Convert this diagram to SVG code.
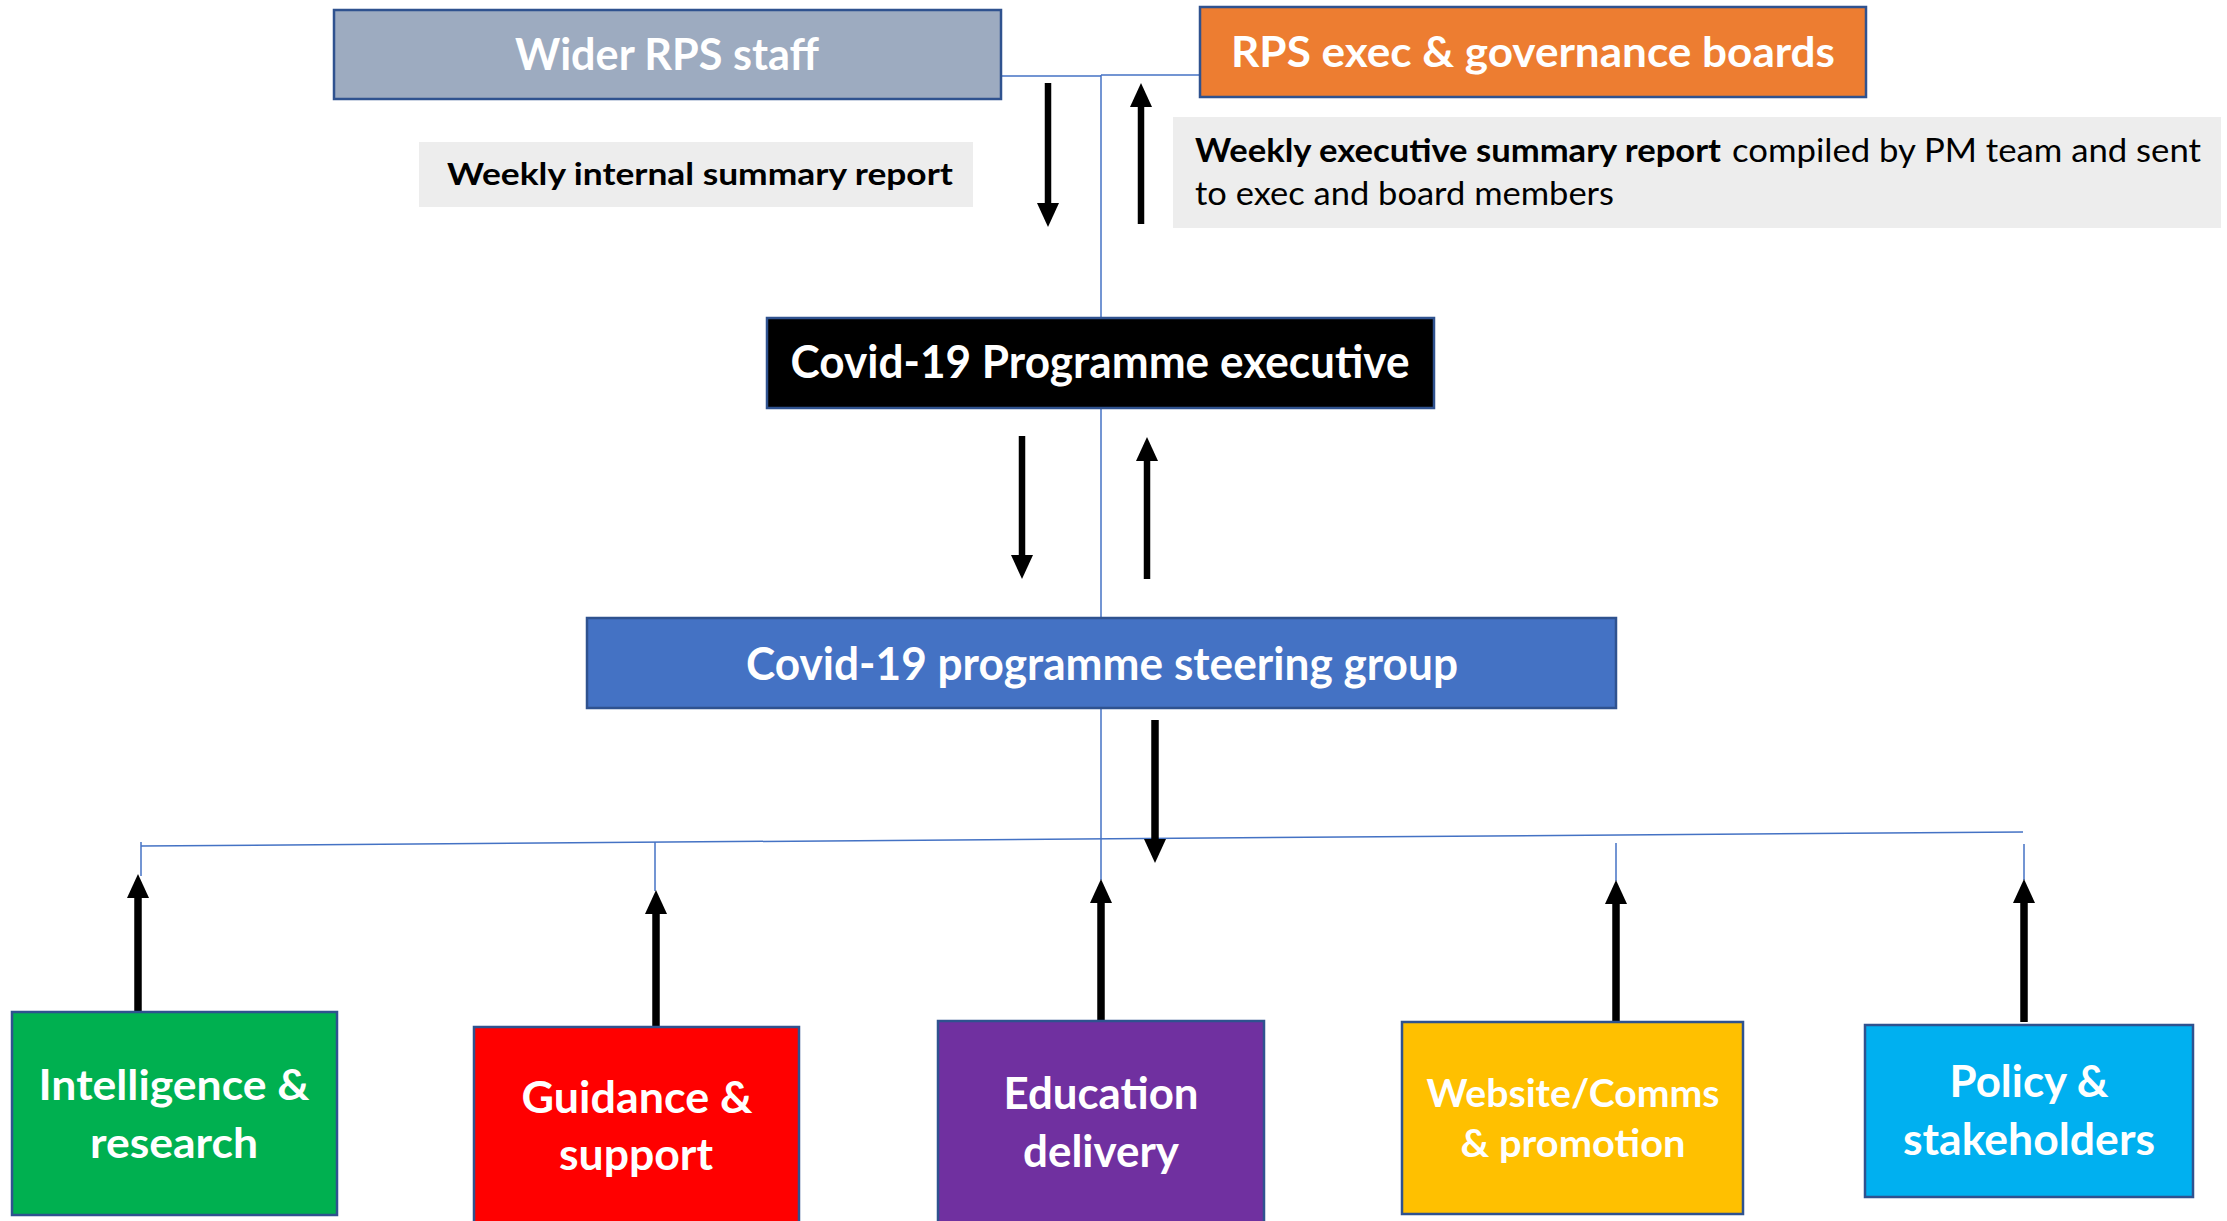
<svg xmlns="http://www.w3.org/2000/svg" width="2227" height="1221" viewBox="0 0 2227 1221">
  <style>
    .box { stroke: #2F528F; stroke-width: 2.5; }
    .lbl { font-family: Lato, "Open Sans", "Liberation Sans", sans-serif; font-weight: 700; fill: #ffffff; text-anchor: middle; }
    .note { fill: #EDEDED; }
    .notetxt { font-family: Lato, "Open Sans", "Liberation Sans", sans-serif; fill: #000000; }
    .link { stroke: #4472C4; stroke-width: 1.5; fill: none; }
    .flow { stroke: #000000; stroke-width: 6.5; fill: none; marker-end: url(#head); }
    .flow.thick { stroke-width: 7.5; }
  </style>
  <defs>
    <marker id="head" markerUnits="userSpaceOnUse" markerWidth="24" markerHeight="24" refX="0" refY="12" orient="auto" viewBox="0 0 24 24">
      <path d="M0,1 L24,12 L0,23 z" fill="#000000"/>
    </marker>
  </defs>

  <rect width="2227" height="1221" fill="#ffffff"/>

  <!-- connectors -->
  <g id="connectors">
    <path class="link" d="M1001,76 H1101"/>
    <path class="link" d="M1101,75 H1199"/>
    <path class="link" d="M1101,75 V318"/>
    <path class="link" d="M1101,408 V618"/>
    <path class="link" d="M1101,708 V880"/>
    <path class="link" d="M141,846 L2023,832"/>
    <path class="link" d="M141,842 V876"/>
    <path class="link" d="M655,842 V891"/>
    <path class="link" d="M1616,843 V881"/>
    <path class="link" d="M2024,844 V880"/>

    <path class="flow" d="M1048,83 V203"/>
    <path class="flow" d="M1141,224 V107"/>
    <path class="flow" d="M1022,436 V555"/>
    <path class="flow" d="M1147,579 V461"/>
    <path class="flow thick" d="M1155,720 V839"/>
    <path class="flow thick" d="M138,1017 V898"/>
    <path class="flow thick" d="M656,1032 V914"/>
    <path class="flow thick" d="M1101,1021 V903"/>
    <path class="flow thick" d="M1616,1022 V904"/>
    <path class="flow thick" d="M2024,1022 V903"/>
  </g>

  <!-- report notes -->
  <g id="note-internal">
    <rect class="note" x="419" y="142" width="554" height="65"/>
    <text class="notetxt" x="447" y="185" font-size="31" font-weight="700" textLength="506" lengthAdjust="spacingAndGlyphs">Weekly internal summary report</text>
  </g>
  <g id="note-executive">
    <rect class="note" x="1173" y="117" width="1048" height="111"/>
    <text class="notetxt" x="1195" y="162" font-size="33" font-weight="700" textLength="526" lengthAdjust="spacingAndGlyphs">Weekly executive summary report</text>
    <text class="notetxt" x="1732" y="162" font-size="33" textLength="469" lengthAdjust="spacingAndGlyphs">compiled by PM team and sent</text>
    <text class="notetxt" x="1195" y="205" font-size="33" textLength="419" lengthAdjust="spacingAndGlyphs">to exec and board members</text>
  </g>

  <!-- top row -->
  <g id="wider-staff">
    <rect class="box" x="334" y="10" width="667" height="89" fill="#9DABC0"/>
    <text class="lbl" x="667" y="70" font-size="44" textLength="304" lengthAdjust="spacingAndGlyphs">Wider RPS staff</text>
  </g>
  <g id="exec-boards">
    <rect class="box" x="1200" y="7" width="666" height="90" fill="#ED7D31"/>
    <text class="lbl" x="1533" y="67" font-size="42" textLength="604" lengthAdjust="spacingAndGlyphs">RPS exec &amp; governance boards</text>
  </g>

  <!-- programme executive -->
  <g id="programme-executive">
    <rect class="box" x="767" y="318" width="667" height="90" fill="#000000"/>
    <text class="lbl" x="1100" y="378" font-size="45" textLength="619" lengthAdjust="spacingAndGlyphs">Covid-19 Programme executive</text>
  </g>

  <!-- steering group -->
  <g id="steering-group">
    <rect class="box" x="587" y="618" width="1029" height="90" fill="#4472C4"/>
    <text class="lbl" x="1102" y="680" font-size="46" textLength="712" lengthAdjust="spacingAndGlyphs">Covid-19 programme steering group</text>
  </g>

  <!-- workstreams -->
  <g id="intelligence-research">
    <rect class="box" x="12" y="1012" width="325" height="203" fill="#00B050"/>
    <text class="lbl" x="174" y="1100" font-size="42" textLength="271" lengthAdjust="spacingAndGlyphs">Intelligence &amp;</text>
    <text class="lbl" x="174" y="1158" font-size="42" textLength="168" lengthAdjust="spacingAndGlyphs">research</text>
  </g>
  <g id="guidance-support">
    <rect class="box" x="474" y="1027" width="325" height="200" fill="#FF0000"/>
    <text class="lbl" x="637" y="1113" font-size="43" textLength="231" lengthAdjust="spacingAndGlyphs">Guidance &amp;</text>
    <text class="lbl" x="636" y="1170" font-size="43" textLength="154" lengthAdjust="spacingAndGlyphs">support</text>
  </g>
  <g id="education-delivery">
    <rect class="box" x="938" y="1021" width="326" height="206" fill="#7030A0"/>
    <text class="lbl" x="1101" y="1109" font-size="43" textLength="195" lengthAdjust="spacingAndGlyphs">Education</text>
    <text class="lbl" x="1101" y="1167" font-size="43" textLength="156" lengthAdjust="spacingAndGlyphs">delivery</text>
  </g>
  <g id="website-comms">
    <rect class="box" x="1402" y="1022" width="341" height="192" fill="#FFC000"/>
    <text class="lbl" x="1573" y="1107" font-size="39" textLength="293" lengthAdjust="spacingAndGlyphs">Website/Comms</text>
    <text class="lbl" x="1573" y="1157" font-size="39" textLength="225" lengthAdjust="spacingAndGlyphs">&amp; promotion</text>
  </g>
  <g id="policy-stakeholders">
    <rect class="box" x="1865" y="1025" width="328" height="172" fill="#00B0F0"/>
    <text class="lbl" x="2029" y="1097" font-size="43" textLength="159" lengthAdjust="spacingAndGlyphs">Policy &amp;</text>
    <text class="lbl" x="2029" y="1155" font-size="43" textLength="252" lengthAdjust="spacingAndGlyphs">stakeholders</text>
  </g>
</svg>
